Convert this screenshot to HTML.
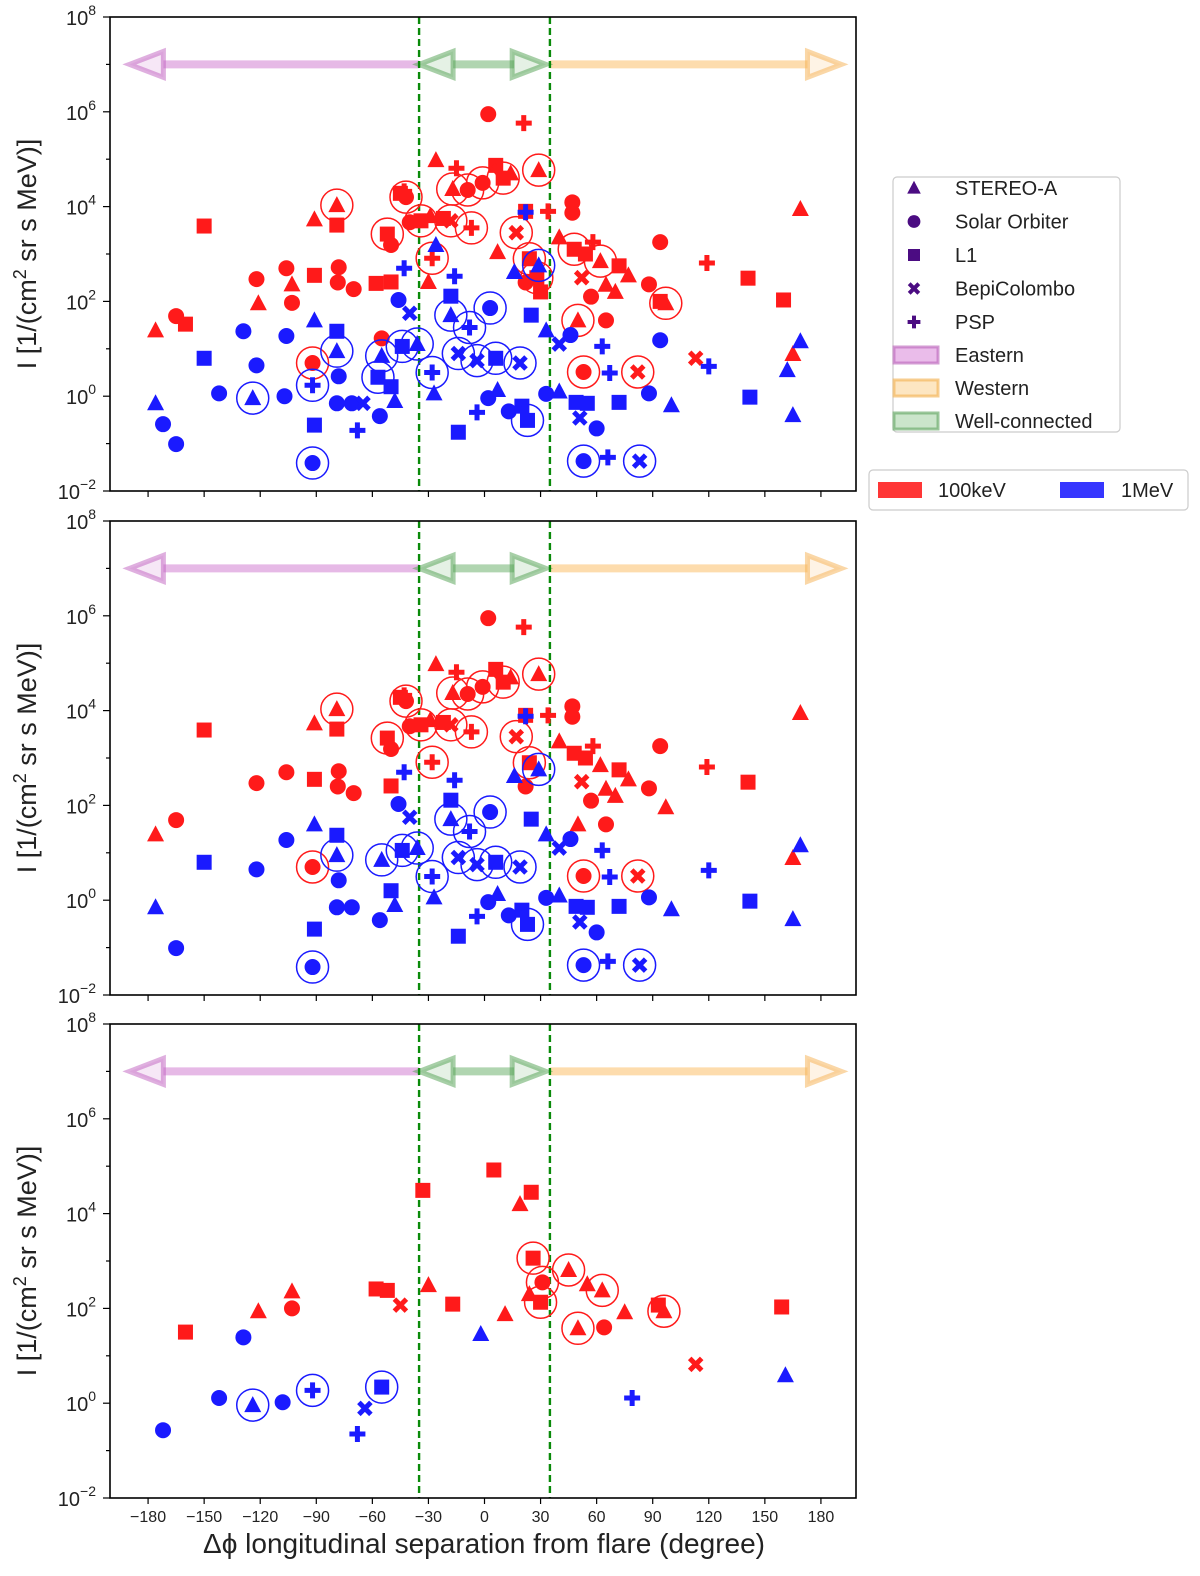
<!DOCTYPE html>
<html><head><meta charset="utf-8"><style>
body{margin:0;background:#fff;font-family:"Liberation Sans","DejaVu Sans",sans-serif}
svg text{font-family:"Liberation Sans","DejaVu Sans",sans-serif}
</style></head><body>
<svg id="c" width="1200" height="1571" viewBox="0 0 1200 1571" xmlns="http://www.w3.org/2000/svg"></svg>
<script>
// data: [longitude deg, log10 intensity, marker, color r/b, circled 0/1]
const panel1=[
[-176,1.39,'t','r',0],[-165,1.69,'o','r',0],[-160,1.52,'s','r',0],[-150,3.59,'s','r',0],[-121,1.96,'t','r',0],[-122,2.47,'o','r',0],
[-106,2.70,'o','r',0],[-103,2.36,'t','r',0],[-103,1.97,'o','r',0],[-91,2.55,'s','r',0],[-91,3.73,'t','r',0],[-79,4.03,'t','r',1],
[-79,3.61,'s','r',0],[-78,2.72,'o','r',0],[-78.5,2.40,'o','r',0],[-70,2.26,'o','r',0],[-92,0.70,'o','r',1],[-55,1.22,'o','r',0],
[-58,2.38,'s','r',0],[-50,2.41,'s','r',0],[-50,3.19,'o','r',0],[-52,3.42,'s','r',1],[-45,4.28,'s','r',0],[-43,4.32,'p','r',0],[-42,4.2,'o','r',1],
[-40,3.67,'o','r',0],[-29,3.80,'t','r',0],[-34,3.7,'s','r',1],[-28,2.91,'p','r',1],[-30,2.41,'t','r',0],[-26,4.98,'t','r',0],
[-15,4.81,'p','r',0],[-17,4.37,'t','r',1],[-9,4.35,'o','r',1],[-1,4.5,'o','r',1],[6,4.87,'s','r',0],[10,4.6,'s','r',1],[29,4.77,'t','r',1],
[2,5.95,'o','r',0],[21,5.76,'p','r',0],[14,4.7,'t','r',0],[-18,3.7,'x','r',1],[-7,3.55,'p','r',1],[17,3.45,'x','r',1],[-22,3.75,'s','r',0],
[7,3.04,'t','r',0],[22,3.9,'s','r',0],[24,2.9,'s','r',1],[28,2.5,'s','r',1],[30,2.2,'s','r',0],[34,3.9,'p','r',0],[22,2.4,'o','r',0],
[47,4.09,'o','r',0],[47,3.87,'o','r',0],[40,3.35,'t','r',0],[48,3.1,'s','r',1],[54,3.0,'s','r',0],[58,3.25,'p','r',0],[62,2.85,'t','r',1],
[52,2.5,'x','r',0],[65,2.35,'t','r',0],[72,2.75,'s','r',0],[77,2.55,'t','r',0],[57,2.1,'o','r',0],[70,2.2,'t','r',0],
[88,2.36,'o','r',0],[94,3.25,'o','r',0],[119,2.81,'p','r',0],[141,2.49,'s','r',0],[160,2.03,'s','r',0],[169,3.95,'t','r',0],
[165,0.89,'t','r',0],[113,0.80,'x','r',0],[82,0.51,'x','r',1],[53,0.51,'o','r',1],[50,1.60,'t','r',1],[65,1.60,'o','r',0],[97,1.96,'t','r',1],[94,2.0,'s','r',0],
[-176,-0.15,'t','b',0],[-172,-0.59,'o','b',0],[-165,-1.01,'o','b',0],[-150,0.80,'s','b',0],[-142,0.06,'o','b',0],[-129,1.37,'o','b',0],
[-124,-0.04,'t','b',1],[-122,0.65,'o','b',0],[-107,0.0,'o','b',0],[-106,1.27,'o','b',0],[-91,1.60,'t','b',0],[-92,0.23,'p','b',1],
[-91,-0.61,'s','b',0],[-92,-1.41,'o','b',1],[-79,1.37,'s','b',0],[-79,0.95,'t','b',1],[-78,0.42,'o','b',0],[-79,-0.15,'o','b',0],
[-71,-0.15,'o','b',0],[-65,-0.15,'x','b',0],[-68,-0.72,'p','b',0],[-56,-0.42,'o','b',0],[-46,2.03,'o','b',0],[-40,1.75,'x','b',0],
[-55,0.85,'t','b',1],[-57,0.4,'s','b',1],[-50,0.2,'s','b',0],[-48,-0.1,'t','b',0],[-44,1.05,'s','b',1],[-36,1.1,'t','b',1],[-26,3.19,'t','b',0],
[-43,2.70,'p','b',0],[-16,2.53,'p','b',0],[-18,2.11,'s','b',0],[-18,1.71,'t','b',1],[3,1.86,'o','b',1],[-8,1.45,'p','b',1],[-14,0.9,'x','b',1],
[-4,0.75,'x','b',1],[6,0.8,'s','b',1],[19,0.7,'x','b',1],[-28,0.5,'p','b',1],[-27,0.06,'t','b',0],[-14,-0.76,'s','b',0],[-4,-0.34,'p','b',0],
[2,-0.04,'o','b',0],[7,0.13,'t','b',0],[13,-0.32,'o','b',0],[20,-0.21,'s','b',0],[23,-0.51,'s','b',1],[22,3.88,'p','b',0],[29,2.76,'t','b',1],
[16,2.62,'t','b',0],[25,1.71,'s','b',0],[33,1.39,'t','b',0],[46,1.29,'o','b',0],[40,1.1,'x','b',0],[63,1.05,'p','b',0],[67,0.49,'p','b',0],
[88,0.06,'o','b',0],[94,1.18,'o','b',0],[100,-0.19,'t','b',0],[142,-0.02,'s','b',0],[162,0.55,'t','b',0],[169,1.16,'t','b',0],
[165,-0.40,'t','b',0],[120,0.63,'p','b',0],[72,-0.13,'s','b',0],[60,-0.68,'o','b',0],[53,-1.37,'o','b',1],[66,-1.29,'p','b',0],
[83,-1.37,'x','b',1],[49,-0.13,'s','b',0],[55,-0.15,'s','b',0],[51,-0.46,'x','b',0],[33,0.05,'o','b',0],[40,0.1,'t','b',0]
];
const panel2=[
[-176,1.39,'t','r',0],[-165,1.69,'o','r',0],[-150,3.59,'s','r',0],[-122,2.47,'o','r',0],
[-106,2.70,'o','r',0],[-91,2.55,'s','r',0],[-91,3.73,'t','r',0],[-79,4.03,'t','r',1],
[-79,3.61,'s','r',0],[-78,2.72,'o','r',0],[-78.5,2.40,'o','r',0],[-70,2.26,'o','r',0],[-92,0.70,'o','r',1],
[-50,2.41,'s','r',0],[-50,3.19,'o','r',0],[-52,3.42,'s','r',1],[-45,4.28,'s','r',0],[-43,4.32,'p','r',0],[-42,4.2,'o','r',1],
[-40,3.67,'o','r',0],[-29,3.80,'t','r',0],[-34,3.7,'s','r',1],[-28,2.91,'p','r',1],[-26,4.98,'t','r',0],
[-15,4.81,'p','r',0],[-17,4.37,'t','r',1],[-9,4.35,'o','r',1],[-1,4.5,'o','r',1],[6,4.87,'s','r',0],[10,4.6,'s','r',1],[29,4.77,'t','r',1],
[2,5.95,'o','r',0],[21,5.76,'p','r',0],[14,4.7,'t','r',0],[-18,3.7,'x','r',1],[-7,3.55,'p','r',1],[17,3.45,'x','r',1],[-22,3.75,'s','r',0],
[22,3.9,'s','r',0],[24,2.9,'s','r',1],[34,3.9,'p','r',0],[22,2.4,'o','r',0],
[47,4.09,'o','r',0],[47,3.87,'o','r',0],[40,3.35,'t','r',0],[48,3.1,'s','r',0],[54,3.0,'s','r',0],[58,3.25,'p','r',0],[62,2.85,'t','r',0],
[52,2.5,'x','r',0],[65,2.35,'t','r',0],[72,2.75,'s','r',0],[77,2.55,'t','r',0],[57,2.1,'o','r',0],[70,2.2,'t','r',0],
[88,2.36,'o','r',0],[94,3.25,'o','r',0],[119,2.81,'p','r',0],[141,2.49,'s','r',0],[169,3.95,'t','r',0],
[165,0.89,'t','r',0],[82,0.51,'x','r',1],[53,0.51,'o','r',1],[50,1.60,'t','r',0],[65,1.60,'o','r',0],[97,1.96,'t','r',0],
[-176,-0.15,'t','b',0],[-165,-1.01,'o','b',0],[-150,0.80,'s','b',0],
[-122,0.65,'o','b',0],[-106,1.27,'o','b',0],[-91,1.60,'t','b',0],
[-91,-0.61,'s','b',0],[-92,-1.41,'o','b',1],[-79,1.37,'s','b',0],[-79,0.95,'t','b',1],[-78,0.42,'o','b',0],[-79,-0.15,'o','b',0],
[-71,-0.15,'o','b',0],[-56,-0.42,'o','b',0],[-46,2.03,'o','b',0],[-40,1.75,'x','b',0],
[-55,0.85,'t','b',1],[-50,0.2,'s','b',0],[-48,-0.1,'t','b',0],[-44,1.05,'s','b',1],[-36,1.1,'t','b',1],
[-43,2.70,'p','b',0],[-16,2.53,'p','b',0],[-18,2.11,'s','b',0],[-18,1.71,'t','b',1],[3,1.86,'o','b',1],[-8,1.45,'p','b',1],[-14,0.9,'x','b',1],
[-4,0.75,'x','b',1],[6,0.8,'s','b',1],[19,0.7,'x','b',1],[-28,0.5,'p','b',1],[-27,0.06,'t','b',0],[-14,-0.76,'s','b',0],[-4,-0.34,'p','b',0],
[2,-0.04,'o','b',0],[7,0.13,'t','b',0],[13,-0.32,'o','b',0],[20,-0.21,'s','b',0],[23,-0.51,'s','b',1],[22,3.88,'p','b',0],[29,2.76,'t','b',1],
[16,2.62,'t','b',0],[25,1.71,'s','b',0],[33,1.39,'t','b',0],[46,1.29,'o','b',0],[40,1.1,'x','b',0],[63,1.05,'p','b',0],[67,0.49,'p','b',0],
[88,0.06,'o','b',0],[100,-0.19,'t','b',0],[142,-0.02,'s','b',0],[169,1.16,'t','b',0],
[165,-0.40,'t','b',0],[120,0.63,'p','b',0],[72,-0.13,'s','b',0],[60,-0.68,'o','b',0],[53,-1.37,'o','b',1],[66,-1.29,'p','b',0],
[83,-1.37,'x','b',1],[49,-0.13,'s','b',0],[55,-0.15,'s','b',0],[51,-0.46,'x','b',0],[33,0.05,'o','b',0],[40,0.1,'t','b',0]
];
const panel3=[
[-160,1.50,'s','r',0],[-121,1.94,'t','r',0],[-103,2.36,'t','r',0],[-103,2.0,'o','r',0],[-58,2.41,'s','r',0],[-52,2.38,'s','r',0],
[-45,2.07,'x','r',0],[-33,4.49,'s','r',0],[-30,2.49,'t','r',0],[-17,2.09,'s','r',0],[11,1.88,'t','r',0],[5,4.92,'s','r',0],
[19,4.20,'t','r',0],[25,4.45,'s','r',0],[26,3.06,'s','r',1],[31,2.55,'o','r',1],[30,2.13,'s','r',1],[24,2.30,'t','r',0],
[45,2.81,'t','r',1],[55,2.51,'t','r',0],[63,2.38,'t','r',1],[50,1.58,'t','r',1],[64,1.60,'o','r',0],[75,1.92,'t','r',0],
[93,2.07,'s','r',0],[96,1.94,'t','r',1],[113,0.82,'x','r',0],[159,2.03,'s','r',0],
[-172,-0.57,'o','b',0],[-142,0.11,'o','b',0],[-129,1.39,'o','b',0],[-124,-0.04,'t','b',1],[-108,0.02,'o','b',0],[-92,0.27,'p','b',1],
[-64,-0.11,'x','b',0],[-68,-0.65,'p','b',0],[-55,0.34,'s','b',1],[-2,1.46,'t','b',0],[79,0.11,'p','b',0],[161,0.59,'t','b',0]
];
const xTicks=[-180,-150,-120,-90,-60,-30,0,30,60,90,120,150,180];
const yTicks=[8,6,4,2,0,-2];
const legendLabels=['STEREO-A','Solar Orbiter','L1','BepiColombo','PSP'];
const legendMarkers=['t','o','s','x','p'];
const regionLabels=['Eastern','Western','Well-connected'];
const boundaries=[-35,35];

const NS='http://www.w3.org/2000/svg';
const svg=document.getElementById('c');
function el(tag,attrs,parent){const e=document.createElementNS(NS,tag);for(const k in attrs)e.setAttribute(k,attrs[k]);(parent||svg).appendChild(e);return e;}
const X0=110,X1=856;
const xs=d=>484.5+d*1.869;
const COL={r:'#ff1a1a',b:'#1a1aff'};
function marker(g,type,cx,cy,fill,sz){
  sz=sz||1;let m;
  if(type==='o')m=el('circle',{cx,cy,r:8*sz,fill},g);
  else if(type==='s')m=el('rect',{x:cx-7.5*sz,y:cy-7.5*sz,width:15*sz,height:15*sz,fill},g);
  else if(type==='t')m=el('polygon',{points:`${cx},${cy-9*sz} ${cx+8.5*sz},${cy+7*sz} ${cx-8.5*sz},${cy+7*sz}`,fill},g);
  else if(type==='p')m=el('path',{d:`M${cx-8*sz},${cy}H${cx+8*sz}M${cx},${cy-8*sz}V${cy+8*sz}`,stroke:fill,'stroke-width':5*sz,fill:'none'},g);
  else m=el('path',{d:`M${cx-6*sz},${cy-6*sz}L${cx+6*sz},${cy+6*sz}M${cx+6*sz},${cy-6*sz}L${cx-6*sz},${cy+6*sz}`,stroke:fill,'stroke-width':5*sz,fill:'none'},g);
  return m;
}
function arrowHead(g,tipX,y,dir,color){
  const bx=tipX-dir*34;
  el('polygon',{points:`${tipX},${y} ${bx},${y-13} ${bx},${y+13}`,fill:color,'fill-opacity':0.15,stroke:color,'stroke-width':5,'stroke-opacity':0.5},g);
}
function panel(top,data,idx,showX){
  const bot=top+474;
  const ys=v=>top+(8-v)*47.4;
  const g=el('g',{});
  
  
  const ay=ys(7);
  const ar=el('g',{},g);
  
  
  el('line',{x1:xs(-190)+34,y1:ay,x2:xs(boundaries[0]),y2:ay,stroke:'#d27fd2','stroke-width':8,'stroke-opacity':0.55},ar);
  arrowHead(ar,xs(-190),ay,-1,'#c060c0');
  el('line',{x1:xs(boundaries[1]),y1:ay,x2:xs(191)-34,y2:ay,stroke:'#fbbf6a','stroke-width':8,'stroke-opacity':0.55},ar);
  arrowHead(ar,xs(191),ay,1,'#f6b04f');
  el('line',{x1:xs(-35)+34,y1:ay,x2:xs(34)-34,y2:ay,stroke:'#6fb36f','stroke-width':8,'stroke-opacity':0.55},ar);
  arrowHead(ar,xs(-35),ay,-1,'#4f9f4f');
  arrowHead(ar,xs(33),ay,1,'#4f9f4f');
  boundaries.forEach(b=>{const l=el('line',{x1:xs(b),y1:top,x2:xs(b),y2:bot,stroke:'#0a8a0a','stroke-width':2.4,'stroke-dasharray':'7,4'},g);
    });
  const pts=el('g',{},g);
  
  
  data.forEach(d=>{
    const cx=xs(d[0]),cy=ys(d[1]);
    const m=marker(pts,d[2],cx,cy,COL[d[3]]);
    
    
    if(d[4]){el('circle',{cx,cy,r:16,fill:'none',stroke:COL[d[3]],'stroke-width':1.5},pts);}
  });
  el('rect',{x:X0,y:top,width:X1-X0,height:474,fill:'none',stroke:'#000','stroke-width':1.6},g);
  for(let v=-2;v<=8;v++){const y=ys(v);const major=(v%2===0);
    el('line',{x1:X0-(major?7:4),y1:y,x2:X0,y2:y,stroke:'#000','stroke-width':1.2},g);}
  yTicks.forEach(v=>{const t=el('text',{x:X0-14,y:ys(v)+8,'text-anchor':'end','font-size':20,fill:'#222'},g);
    t.textContent='10';const s=el('tspan',{dy:-10,'font-size':14},t);s.textContent=String(v).replace('-','\u2212');
    });
  xTicks.forEach(v=>{el('line',{x1:xs(v),y1:bot,x2:xs(v),y2:bot+6,stroke:'#000','stroke-width':1.2},g);
    if(showX){const t=el('text',{x:xs(v),y:bot+24,'text-anchor':'middle','font-size':16,fill:'#222'},g);t.textContent=String(v).replace('-','\u2212');
      }});
  const yl=el('text',{x:0,y:0,transform:`translate(36,${top+237}) rotate(-90)`,'text-anchor':'middle','font-size':27,fill:'#222'},g);
  yl.textContent='I [1/(cm';const sp=el('tspan',{dy:-10,'font-size':18},yl);sp.textContent='2';const sp2=el('tspan',{dy:10},yl);sp2.textContent=' sr s MeV)]';
  
}
panel(17,panel1,1,false);
panel(521,panel2,2,false);
panel(1024,panel3,3,true);
const xt=el('text',{x:484,y:1553,'text-anchor':'middle','font-size':28,fill:'#222'});
xt.textContent='\u0394\u03d5 longitudinal separation from flare (degree)';

const lg=el('g',{});

el('rect',{x:893,y:177,width:227,height:255,rx:4,fill:'#fff',stroke:'#ccc','stroke-width':1.2},lg);
legendLabels.forEach((l,i)=>{const y=188+i*33.5;marker(lg,legendMarkers[i],914,y,'#4b0c82',0.8);
  const t=el('text',{x:955,y:y+7,'font-size':20,fill:'#222'},lg);t.textContent=l;
  });
const rc=[['#dc8fdc','#c070c0'],['#fcd59a','#f4b860'],['#a9d4a9','#6fae6f']];
regionLabels.forEach((l,i)=>{const y=355+i*33;
  el('rect',{x:894,y:y-8,width:44,height:16,fill:rc[i][0],'fill-opacity':0.6,stroke:rc[i][1],'stroke-width':3,'stroke-opacity':0.7},lg);
  const t=el('text',{x:955,y:y+7,'font-size':20,fill:'#222'},lg);t.textContent=l;
  });
const lg2=el('g',{});

el('rect',{x:869,y:470,width:319,height:40,rx:4,fill:'#fff',stroke:'#ccc','stroke-width':1.2},lg2);
el('rect',{x:878,y:482,width:44,height:16,fill:'#ff2020','fill-opacity':0.9},lg2);
const t1=el('text',{x:938,y:497,'font-size':20,fill:'#222'},lg2);t1.textContent='100keV';
el('rect',{x:1060,y:482,width:44,height:16,fill:'#2020ff','fill-opacity':0.9},lg2);
const t2=el('text',{x:1121,y:497,'font-size':20,fill:'#222'},lg2);t2.textContent='1MeV';
</script>
</body></html>
